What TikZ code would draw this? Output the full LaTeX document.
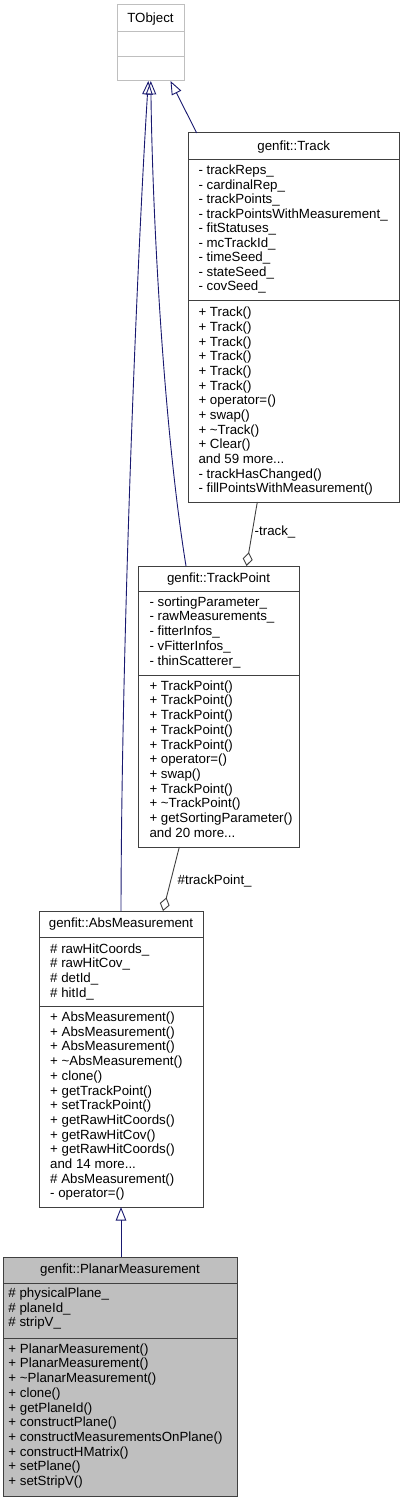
\documentclass[tikz,border=0pt]{standalone}
\usepackage{fontspec}
\setmainfont{Liberation Sans}
\usetikzlibrary{arrows.meta}
\definecolor{edgeblue}{HTML}{191970}
\definecolor{boxgray}{HTML}{404040}
\definecolor{lightborder}{HTML}{BFBFBF}
\definecolor{planarfill}{HTML}{BFBFBF}
\newcommand{\mydots}{...}
\begin{document}
\begin{tikzpicture}[x=1pt,y=-1pt,
  box/.style={draw=boxgray, line width=1pt, fill=white, inner sep=0pt, outer sep=0pt},
  divider/.style={draw=boxgray, line width=1pt},
  hdr/.style={anchor=base, inner sep=0pt, font=\fontsize{13.3}{14.7}\selectfont},
  member/.style={anchor=base west, inner sep=0pt, font=\fontsize{13.3}{14.7}\selectfont},
  elabel/.style={anchor=base west, inner sep=0pt, font=\fontsize{13.3}{14.7}\selectfont},
  inherit/.style={draw=edgeblue, line width=0.9pt, -{Triangle[open, length=13.5pt, width=10.5pt]}},
  compose/.style={draw=boxgray, line width=0.9pt, -{Diamond[open, length=14pt, width=10pt]}},
]
\useasboundingbox (0,0) rectangle (403,1501);

% TObject
\node[box, draw=lightborder, minimum width=67pt, minimum height=76pt] (tobject) at (150.5,43) {};
\draw[draw=lightborder, line width=1pt] ([yshift=-26.5pt]tobject.north west) -- ([yshift=-26.5pt]tobject.north east);
\draw[draw=lightborder, line width=1pt] ([yshift=-51.5pt]tobject.north west) -- ([yshift=-51.5pt]tobject.north east);
\node[hdr] (tobject-name) at (150.5,22.5) {TObject};

% genfit::Track
\node[box, minimum width=211.5pt, minimum height=369pt] (track) at (293.75,317.5) {};
\draw[divider] ([yshift=-26pt]track.north west) -- ([yshift=-26pt]track.north east);
\draw[divider] ([yshift=-167pt]track.north west) -- ([yshift=-167pt]track.north east);
\node[hdr] (track-name) at (293.75,150) {genfit::Track};
\foreach \t [count=\i] in {{- trackReps\_},{- cardinalRep\_},{- trackPoints\_},{- trackPointsWithMeasurement\_},{- fitStatuses\_},{- mcTrackId\_},{- timeSeed\_},{- stateSeed\_},{- covSeed\_}}
  \node[member] (track-a\i) at (198.3,{174.9+(\i-1)*14.5}) {\t};
\foreach \t [count=\i] in {{+ Track()},{+ Track()},{+ Track()},{+ Track()},{+ Track()},{+ Track()},{+ operator=()},{+ swap()},{+ \textasciitilde Track()},{+ Clear()},{and 59 more\mydots},{- trackHasChanged()},{- fillPointsWithMeasurement()}}
  \node[member] (track-m\i) at (198.3,{316.9+(\i-1)*14.65}) {\t};

% genfit::TrackPoint
\node[box, minimum width=161pt, minimum height=281pt] (trackpoint) at (218.5,706.5) {};
\draw[divider] ([yshift=-25pt]trackpoint.north west) -- ([yshift=-25pt]trackpoint.north east);
\draw[divider] ([yshift=-109pt]trackpoint.north west) -- ([yshift=-109pt]trackpoint.north east);
\node[hdr] (trackpoint-name) at (218.5,582) {genfit::TrackPoint};
\foreach \t [count=\i] in {{- sortingParameter\_},{- rawMeasurements\_},{- fitterInfos\_},{- vFitterInfos\_},{- thinScatterer\_}}
  \node[member] (trackpoint-a\i) at (149.3,{606.2+(\i-1)*14.7}) {\t};
\foreach \t [count=\i] in {{+ TrackPoint()},{+ TrackPoint()},{+ TrackPoint()},{+ TrackPoint()},{+ TrackPoint()},{+ operator=()},{+ swap()},{+ TrackPoint()},{+ \textasciitilde TrackPoint()},{+ getSortingParameter()},{and 20 more\mydots}}
  \node[member] (trackpoint-m\i) at (149.3,{690.2+(\i-1)*14.7}) {\t};

% genfit::AbsMeasurement
\node[box, minimum width=164pt, minimum height=296pt] (absm) at (121,1059) {};
\draw[divider] ([yshift=-26pt]absm.north west) -- ([yshift=-26pt]absm.north east);
\draw[divider] ([yshift=-95pt]absm.north west) -- ([yshift=-95pt]absm.north east);
\node[hdr] (absm-name) at (121,927) {genfit::AbsMeasurement};
\foreach \t [count=\i] in {{\# rawHitCoords\_},{\# rawHitCov\_},{\# detId\_},{\# hitId\_}}
  \node[member] (absm-a\i) at (50,{953.2+(\i-1)*14.7}) {\t};
\foreach \t [count=\i] in {{+ AbsMeasurement()},{+ AbsMeasurement()},{+ AbsMeasurement()},{+ \textasciitilde AbsMeasurement()},{+ clone()},{+ getTrackPoint()},{+ setTrackPoint()},{+ getRawHitCoords()},{+ getRawHitCov()},{+ getRawHitCoords()},{and 14 more\mydots},{\# AbsMeasurement()},{- operator=()}}
  \node[member] (absm-m\i) at (50,{1021.5+(\i-1)*14.7}) {\t};

% genfit::PlanarMeasurement
\node[box, fill=planarfill, minimum width=234pt, minimum height=239pt] (planar) at (120,1376.5) {};
\draw[divider] ([yshift=-26pt]planar.north west) -- ([yshift=-26pt]planar.north east);
\draw[divider] ([yshift=-81pt]planar.north west) -- ([yshift=-81pt]planar.north east);
\node[hdr] (planar-name) at (120,1273.5) {genfit::PlanarMeasurement};
\foreach \t [count=\i] in {{\# physicalPlane\_},{\# planeId\_},{\# stripV\_}}
  \node[member] (planar-a\i) at (8.3,{1297.5+(\i-1)*14.7}) {\t};
\foreach \t [count=\i] in {{+ PlanarMeasurement()},{+ PlanarMeasurement()},{+ \textasciitilde PlanarMeasurement()},{+ clone()},{+ getPlaneId()},{+ constructPlane()},{+ constructMeasurementsOnPlane()},{+ constructHMatrix()},{+ setPlane()},{+ setStripV()}}
  \node[member] (planar-m\i) at (8.3,{1353.2+(\i-1)*14.7}) {\t};

% connectors
\draw[inherit] ([xshift=1pt]planar.north) -- (absm.south);
\draw[inherit] (absm.north) .. controls (121.5,640) and (137,260) .. ([xshift=-2.2pt]tobject.south);
\draw[inherit] ([xshift=-32.5pt]trackpoint.north) .. controls (164,430) and (152.5,220) .. ([xshift=0.3pt]tobject.south);
\draw[inherit] ([xshift=8.7pt]track.north west) -- ([xshift=20pt]tobject.south);
\draw[compose] ([xshift=69.3pt]track.south west) -- ([xshift=108.5pt]trackpoint.north west);
\node[elabel] (track-label) at (254.5,535.5) {-track\_};
\draw[compose] ([xshift=41.3pt]trackpoint.south west) -- ([xshift=124pt]absm.north west);
\node[elabel] (trackpoint-label) at (177.5,884) {\#trackPoint\_};
\end{tikzpicture}
\end{document}
